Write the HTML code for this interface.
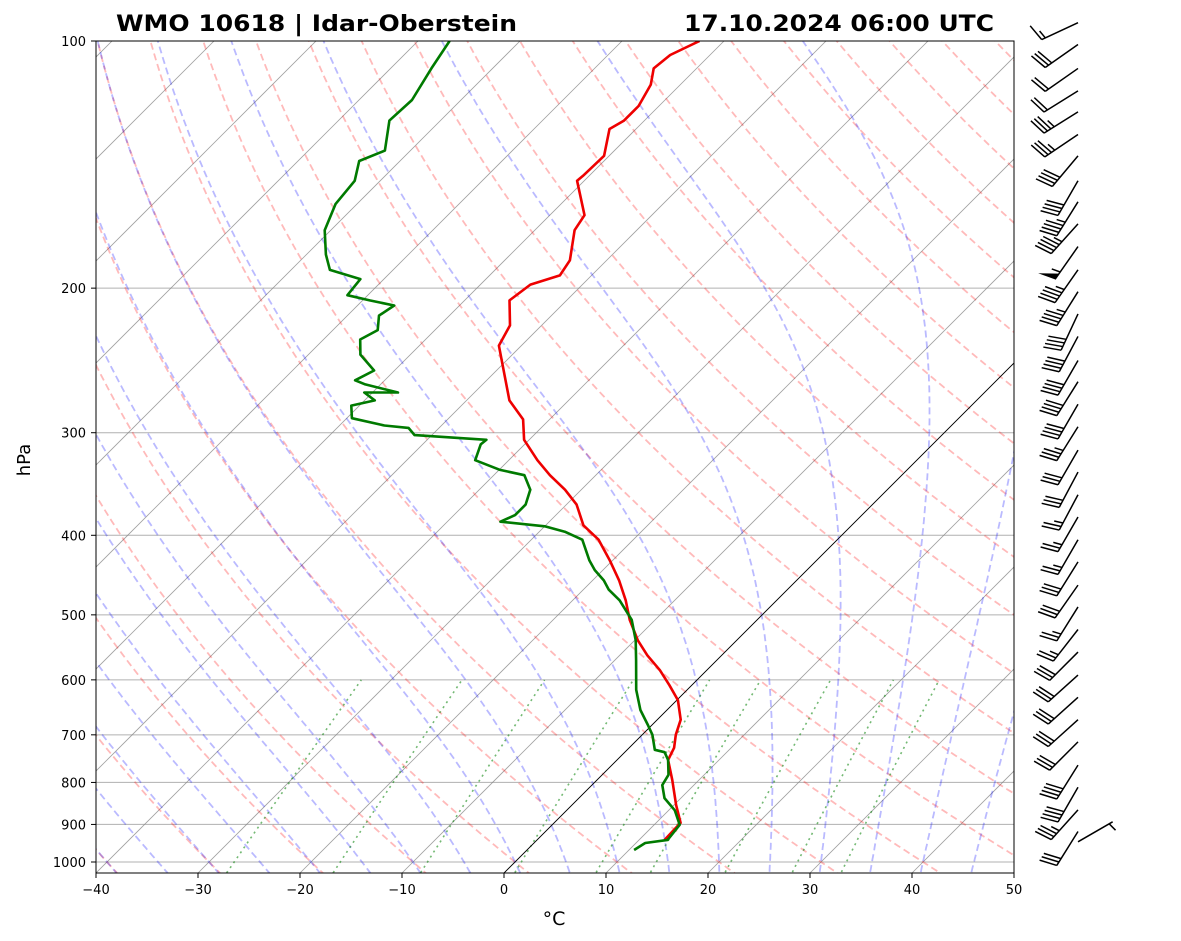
<!DOCTYPE html>
<html><head><meta charset="utf-8">
<style>
body{margin:0;background:#fff;}
svg{display:block;font-family:"DejaVu Sans","Liberation Sans",sans-serif;}
</style></head>
<body>
<svg id="chart" width="1181" height="941" viewBox="0 0 1181 941">
<defs><clipPath id="plotclip"><rect x="96" y="41" width="918" height="832"/></clipPath></defs>
<rect x="0" y="0" width="1181" height="941" fill="#fff"/>
<g id="bg" clip-path="url(#plotclip)"></g>
<g id="prof" clip-path="url(#plotclip)"></g>
<rect x="96" y="41" width="918" height="832" fill="none" stroke="#000" stroke-width="1"/>
<g id="axes"></g>
<g id="barbs"></g>
<text x="116" y="31" font-size="22" font-weight="bold" textLength="401" lengthAdjust="spacingAndGlyphs">WMO 10618 | Idar-Oberstein</text>
<text x="684" y="31" font-size="22" font-weight="bold" textLength="310" lengthAdjust="spacingAndGlyphs">17.10.2024 06:00 UTC</text>
<text x="554" y="925" font-size="19" text-anchor="middle">°C</text>
<text x="30" y="460" font-size="18" text-anchor="middle" transform="rotate(-90 30 460)">hPa</text>
</svg>
<script>
// ---- data ----
const tempP = [940,896,852,795,751,726,700,671,635,609,584,560,537,507,480,454,429,405,389,367,352,338,324,306,289,274,235,222,207,198,193,185,170,163,148,146,138,128,125,120,113,108,104,100];
const tempT = [12.5,12.4,10.2,7.4,5.0,4.4,3.3,2.3,0.1,-2.2,-4.6,-7.3,-9.7,-12.5,-14.8,-17.4,-20.3,-23.4,-26.3,-29.0,-31.6,-34.5,-37.2,-40.5,-42.6,-45.8,-52.2,-53.1,-55.6,-55.1,-53.1,-53.6,-56.1,-56.6,-60.7,-60.6,-60.5,-62.6,-62.0,-62.0,-62.9,-64.2,-63.9,-62.4];
const dewP = [967,948,940,901,865,836,806,783,751,735,730,700,681,653,617,568,537,507,480,466,454,441,429,405,396,390,385,378,367,352,338,333,324,310,306,302,296,294,288,278,274,268,268,262,259,252,241,231,225,216,210,207,204,195,190,182,170,158,148,140,136,125,118,108,100];
const dewT = [10.5,10.9,12.8,12.5,10.6,8.4,6.9,6.5,5.0,3.9,2.7,1.0,-0.4,-2.6,-5.0,-7.9,-9.9,-12.3,-15.4,-17.5,-18.9,-20.8,-22.3,-25.0,-27.5,-30.0,-34.8,-34.0,-34.0,-35.0,-37.0,-39.9,-43.3,-44.3,-44.2,-51.7,-53.0,-55.6,-59.5,-60.8,-59.0,-60.8,-57.5,-61.5,-62.9,-62.0,-64.9,-66.4,-65.6,-66.9,-66.4,-69.3,-72.0,-72.3,-76.2,-78.1,-80.6,-82.1,-82.5,-84.0,-82.5,-85.0,-84.8,-86.0,-86.9];
const barbP = [95,101,108,115,122,130,138,148,157,167,178,190,202,215,229,245,260,277,295,315,335,357,380,405,431,460,489,521,555,592,630,671,714,762,811,864,918,945];
const barbDir = [245,235,235,238,238,236,220,210,212,222,215,215,212,205,208,210,212,210,212,210,208,208,210,210,212,215,212,218,225,228,228,228,225,212,210,222,212,60];
const barbSpd = [15,30,20,20,35,35,40,40,45,45,55,45,45,40,40,40,40,40,35,30,30,25,25,25,30,30,25,25,30,30,30,30,30,40,40,35,30,5];
const xTicks = [-40,-30,-20,-10,0,10,20,30,40,50];
const yTicks = [100,200,300,400,500,600,700,800,900,1000];
// ---- scales ----
const NS="http://www.w3.org/2000/svg";
function ypix(p){return 41+821*Math.log10(p/100);}
function xpix(T,p){return 504+T*10.2+(873-ypix(p));}
function mk(tag,attrs,parent){const e=document.createElementNS(NS,tag);for(const k in attrs)e.setAttribute(k,attrs[k]);parent.appendChild(e);return e;}
function pathFrom(pts){return pts.map((q,i)=>(i?'L':'M')+q[0].toFixed(1)+' '+q[1].toFixed(1)).join(' ');}
const bg=document.getElementById('bg'),prof=document.getElementById('prof'),axes=document.getElementById('axes'),barbs=document.getElementById('barbs');
const pLevels=[];for(let p=1060;p>=95;p-=5)pLevels.push(p);
// horizontal grid
yTicks.forEach(p=>{const l=mk('line',{x1:96,x2:1014,y1:ypix(p),y2:ypix(p),stroke:'#b0b0b0','stroke-width':1},bg);

});
// isotherms
for(let T=-140;T<=50;T+=10){const l=mk('line',{x1:xpix(T,1060),y1:ypix(1060),x2:xpix(T,90),y2:ypix(90),stroke:'#888','stroke-width':0.8,'stroke-opacity':0.8},bg);

}
// dry adiabats
for(let t0=-40;t0<=200;t0+=10){const th=t0+273.15;const pts=pLevels.map(p=>[xpix(th*Math.pow(p/1000,0.286)-273.15,p),ypix(p)]);
const e=mk('path',{d:pathFrom(pts),fill:'none',stroke:'rgba(255,0,0,0.27)','stroke-width':1.8,'stroke-dasharray':'7,4'},bg);

}
// moist adiabats
function es(Tc){return 6.112*Math.exp(17.67*Tc/(Tc+243.5));}
function dTdp(p,T){const Tc=T-273.15;const e=es(Tc);const rs=0.622*e/(p-e);return (287.04*T+2.501e6*rs)/(p*(1005.7+2.501e6*2.501e6*rs*0.622/(287.04*T*T)));}
function moist(t0){const res={};let T=t0+273.15;res[1000]=T;
 for(let p=1000;p>95;p-=1){const k1=dTdp(p,T),k2=dTdp(p-0.5,T-0.5*k1),k3=dTdp(p-0.5,T-0.5*k2),k4=dTdp(p-1,T-k3);T-= (k1+2*k2+2*k3+k4)/6;res[p-1]=T;}
 T=t0+273.15;for(let p=1000;p<1060;p+=1){T+=dTdp(p,T);res[p+1]=T;}return res;}
for(let t0=-40;t0<=45;t0+=5){const r=moist(t0);const pts=pLevels.map(p=>[xpix(r[p]-273.15,p),ypix(p)]);
const e=mk('path',{d:pathFrom(pts),fill:'none',stroke:'rgba(0,0,255,0.27)','stroke-width':1.8,'stroke-dasharray':'7,4'},bg);

}
// mixing ratio
[0.0004,0.001,0.002,0.004,0.007,0.01,0.016,0.024,0.032].forEach(w=>{const pts=[];for(let p=1060;p>=600;p-=10){const e=p*w/(0.622+w);const l=Math.log(e/6.112);pts.push([xpix(243.5*l/(17.67-l),p),ypix(p)]);}
const e=mk('path',{d:pathFrom(pts),fill:'none',stroke:'rgba(0,128,0,0.55)','stroke-width':1.6,'stroke-dasharray':'2,4'},bg);

});
// 0C isotherm
const z=mk('line',{x1:xpix(0,1060),y1:ypix(1060),x2:xpix(0,90),y2:ypix(90),stroke:'#000','stroke-width':0.9},bg);


// profiles
const tp=mk('path',{d:pathFrom(tempP.map((p,i)=>[xpix(tempT[i],p),ypix(p)])),fill:'none',stroke:'#e00','stroke-width':2.6,'stroke-linejoin':'round'},prof);


const dp=mk('path',{d:pathFrom(dewP.map((p,i)=>[xpix(dewT[i],p),ypix(p)])),fill:'none',stroke:'#007a00','stroke-width':2.6,'stroke-linejoin':'round'},prof);


// ticks
xTicks.forEach(T=>{const x=96+(T+40)*10.2;mk('line',{x1:x,x2:x,y1:873,y2:878,stroke:'#000'},axes);
const t=mk('text',{x:x,y:894,'font-size':13,'text-anchor':'middle'},axes);t.textContent=(T<0?'\u2212'+(-T):T);

});
yTicks.forEach(p=>{const y=ypix(p);mk('line',{x1:91,x2:96,y1:y,y2:y,stroke:'#000'},axes);
const t=mk('text',{x:86,y:y+5,'font-size':13,'text-anchor':'end'},axes);t.textContent=p;

});
// barbs
barbP.forEach((p,i)=>{const px=1078,py=ypix(p);const th=barbDir[i]*Math.PI/180;const d=[Math.sin(th),-Math.cos(th)];
 const a=75*Math.PI/180;const b=[d[0]*Math.cos(a)-d[1]*Math.sin(a),d[0]*Math.sin(a)+d[1]*Math.cos(a)];
 const L=40;const g=mk('g',{},barbs);
 
 
 mk('line',{x1:px,y1:py,x2:px+d[0]*L,y2:py+d[1]*L,stroke:'#000','stroke-width':1.5},g);
 let s=Math.round(barbSpd[i]/5)*5;let pos=L;const bl=18;
 while(s>=50){const q0=[px+d[0]*pos,py+d[1]*pos],q1=[px+d[0]*(pos-7),py+d[1]*(pos-7)];
  mk('polygon',{points:`${q0[0]},${q0[1]} ${q0[0]+b[0]*bl},${q0[1]+b[1]*bl} ${q1[0]},${q1[1]}`,fill:'#000'},g);pos-=9;s-=50;}
 while(s>=10){const q=[px+d[0]*pos,py+d[1]*pos];mk('line',{x1:q[0],y1:q[1],x2:q[0]+b[0]*bl,y2:q[1]+b[1]*bl,stroke:'#000','stroke-width':1.5},g);pos-=4;s-=10;}
 if(s>=5){if(pos===L)pos-=4;const q=[px+d[0]*pos,py+d[1]*pos];mk('line',{x1:q[0],y1:q[1],x2:q[0]+b[0]*bl/2,y2:q[1]+b[1]*bl/2,stroke:'#000','stroke-width':1.5},g);}
});
</script>
</body></html>
